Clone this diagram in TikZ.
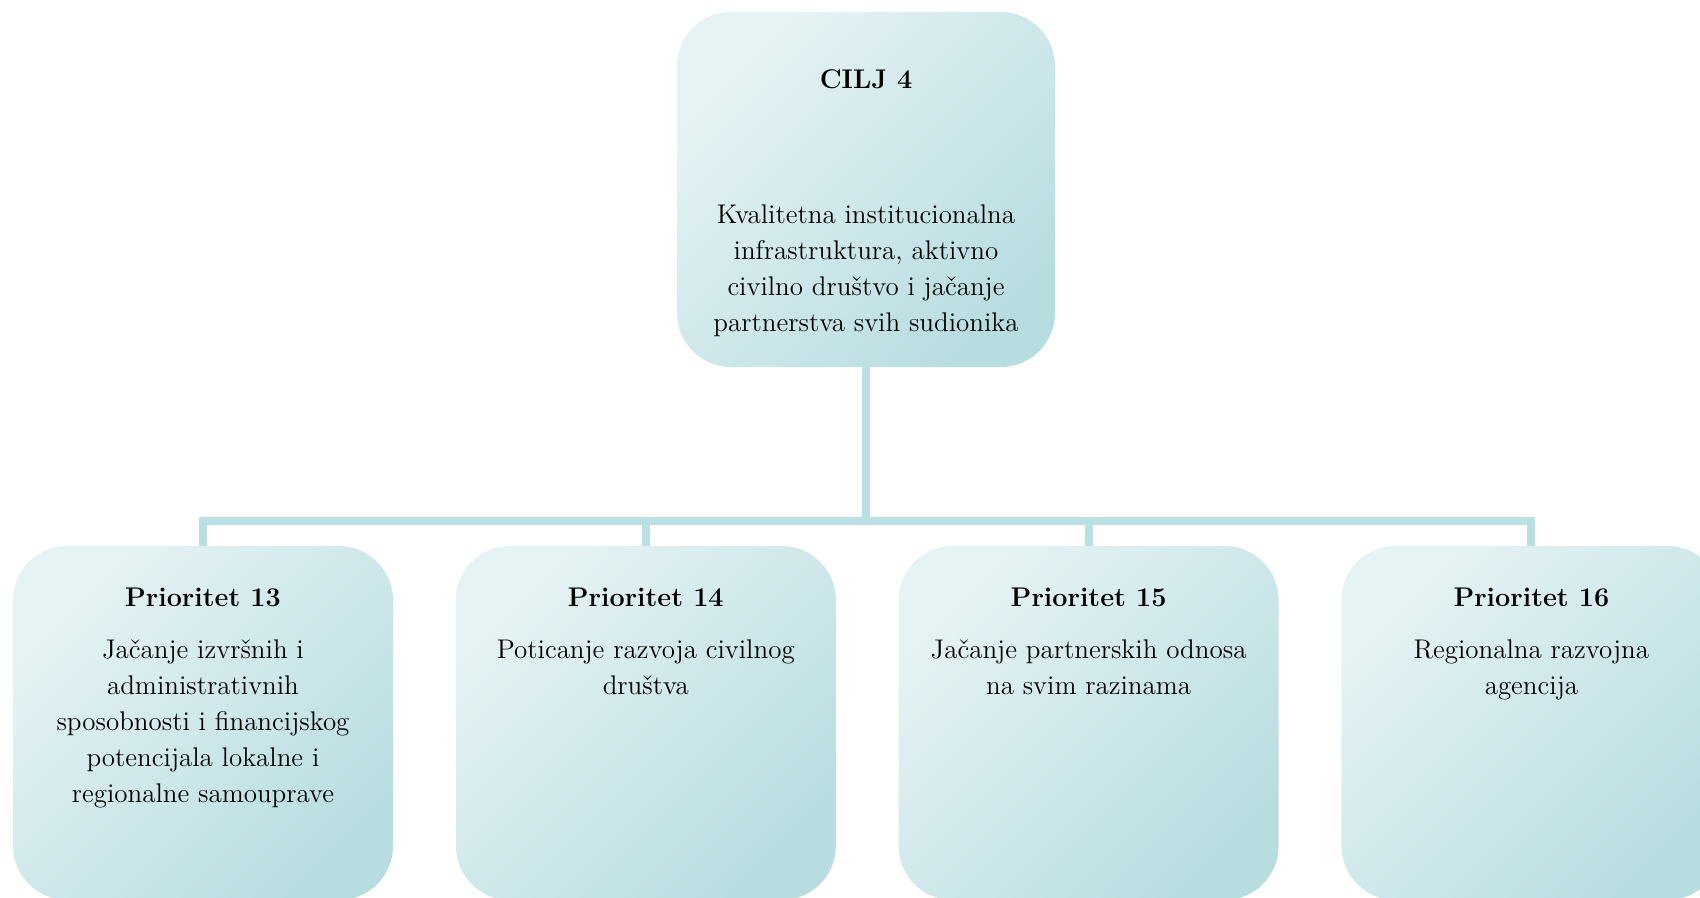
\documentclass[tikz,border=0pt]{standalone}
\usepackage{fontspec}
\usetikzlibrary{positioning}
\definecolor{boxlight}{HTML}{E6F3F4}
\definecolor{boxmid}{HTML}{DAEDEF}
\definecolor{boxdark}{HTML}{B8DDE1}
\definecolor{linkcol}{HTML}{BBE0E3}
\begin{document}
\begin{tikzpicture}[x=0.5pt,y=-0.5pt,
        box/.style={rounded corners=27pt,top color=boxlight,middle color=boxmid,bottom color=boxdark,shading angle=45,
                minimum width=190pt,minimum height=177pt,inner sep=0pt},
        boxtitle/.style={anchor=base,inner sep=0pt,font=\fontsize{13.5}{18}\selectfont\bfseries},
        boxtext/.style={anchor=north,align=center,inner sep=0pt,font=\fontsize{13.5}{18}\selectfont},
        link/.style={draw=linkcol,line width=4pt}]
        \useasboundingbox (0,0) rectangle (1700,898);
        \clip (0,0) rectangle (1700,898);

        % goal and priorities
        \node[box,minimum width=189pt,minimum height=177.5pt] (goal) at (866,189.5) {};
        \node[box] (p13) at (203,723) {};
        \node[box,right=31pt of p13] (p14) {};
        \node[box,right=31pt of p14] (p15) {};
        \node[box,right=31pt of p15] (p16) {};

        \coordinate (bar) at (866,521);
        \draw[link] (goal.south) -- (bar) -| (p13.north);
        \draw[link] (goal.south) -- (bar) -| (p14.north);
        \draw[link] (goal.south) -- (bar) -| (p15.north);
        \draw[link] (goal.south) -- (bar) -| (p16.north);

        \node[boxtitle] (goaltitle) at ([yshift=-38.5pt]goal.north) {CILJ 4};
        \node[boxtext] (goaltext) at ([yshift=-96.5pt]goal.north)
        {Kvalitetna institucionalna\\infrastruktura, aktivno\\civilno društvo i jačanje\\partnerstva svih sudionika};

        \node[boxtitle] (p13title) at ([yshift=-30.5pt]p13.north) {Prioritet 13};
        \node[boxtext] (p13text) at ([yshift=-47pt]p13.north)
        {Jačanje izvršnih i\\administrativnih\\sposobnosti i financijskog\\potencijala lokalne i\\regionalne samouprave};
        \node[boxtitle] (p14title) at ([yshift=-30.5pt]p14.north) {Prioritet 14};
        \node[boxtext] (p14text) at ([yshift=-47pt]p14.north)
        {Poticanje razvoja civilnog\\društva};
        \node[boxtitle] (p15title) at ([yshift=-30.5pt]p15.north) {Prioritet 15};
        \node[boxtext] (p15text) at ([yshift=-47pt]p15.north)
        {Jačanje partnerskih odnosa\\na svim razinama};
        \node[boxtitle] (p16title) at ([yshift=-30.5pt]p16.north) {Prioritet 16};
        \node[boxtext] (p16text) at ([yshift=-47pt]p16.north)
        {Regionalna razvojna\\agencija};
\end{tikzpicture}
\end{document}
